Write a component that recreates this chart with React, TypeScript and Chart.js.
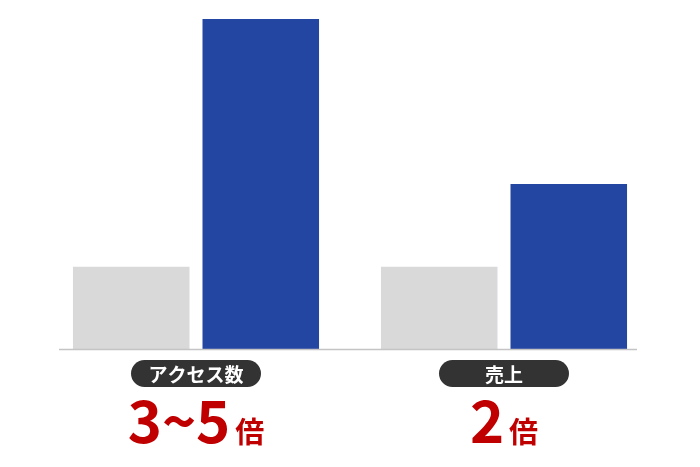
import React, { useEffect, useRef } from "react";
import { Chart, registerables } from "chart.js";

Chart.register(...registerables);

const categories = ["アクセス数", "売上"];
const beforeValues = [1, 1];
const afterValues = [4, 2];
const multiplierNumbers = ["3~5", "2"];
const multiplierUnit = "倍";

const FONT = '"Noto Sans CJK JP", "Noto Sans", sans-serif';

const labelPlugin = {
  id: "labelPlugin",
  afterDatasetsDraw(chart: any) {
    const { ctx, chartArea, scales } = chart;
    const xScale = scales.x;
    ctx.save();
    // baseline axis line
    ctx.strokeStyle = "#c4c4c4";
    ctx.lineWidth = 1.5;
    ctx.beginPath();
    ctx.moveTo(chartArea.left + 17, chartArea.bottom + 0.5);
    ctx.lineTo(chartArea.right - 21, chartArea.bottom + 0.5);
    ctx.stroke();

    categories.forEach((cat, i) => {
      const cx = xScale.getPixelForValue(i);
      // pill
      const pw = 130;
      const ph = 27;
      const py = chartArea.bottom + 11;
      const px = cx - pw / 2;
      const r = ph / 2;
      ctx.fillStyle = "#333333";
      ctx.beginPath();
      ctx.moveTo(px + r, py);
      ctx.lineTo(px + pw - r, py);
      ctx.arc(px + pw - r, py + r, r, -Math.PI / 2, Math.PI / 2);
      ctx.lineTo(px + r, py + ph);
      ctx.arc(px + r, py + r, r, Math.PI / 2, (Math.PI * 3) / 2);
      ctx.closePath();
      ctx.fill();
      ctx.fillStyle = "#ffffff";
      ctx.font = `bold 19px ${FONT}`;
      ctx.textAlign = "center";
      ctx.textBaseline = "middle";
      ctx.fillText(cat, cx, py + ph / 2 + 1);

      // multiplier text
      const num = multiplierNumbers[i];
      const bigFont = `bold 58px ${FONT}`;
      const smallFont = `bold 29px ${FONT}`;
      ctx.font = bigFont;
      const w1 = ctx.measureText(num).width;
      ctx.font = smallFont;
      const w2 = ctx.measureText(multiplierUnit).width;
      const gap = 5;
      const total = w1 + gap + w2;
      const startX = cx - total / 2;
      const baseY = chartArea.bottom + 94;
      ctx.fillStyle = "#c00000";
      ctx.textAlign = "left";
      ctx.textBaseline = "alphabetic";
      ctx.font = bigFont;
      ctx.fillText(num, startX, baseY);
      ctx.font = smallFont;
      ctx.fillText(multiplierUnit, startX + w1 + gap, baseY);
    });
    ctx.restore();
  },
};

export default function App() {
  const canvasRef = useRef<HTMLCanvasElement | null>(null);

  useEffect(() => {
    document.body.style.margin = "0";
    const canvas = canvasRef.current;
    if (!canvas) return;
    const chart = new Chart(canvas, {
      type: "bar",
      data: {
        labels: categories,
        datasets: [
          {
            label: "before",
            data: beforeValues,
            backgroundColor: "#d9d9d9",
            borderColor: "#ffffff",
            borderWidth: { top: 0, right: 6.5, bottom: 0, left: 0 },
            borderSkipped: false,
            categoryPercentage: 0.8,
            barPercentage: 1,
          },
          {
            label: "after",
            data: afterValues,
            backgroundColor: "#2446a3",
            borderColor: "#ffffff",
            borderWidth: { top: 0, right: 0, bottom: 0, left: 6.5 },
            borderSkipped: false,
            categoryPercentage: 0.8,
            barPercentage: 1,
          },
        ],
      },
      options: {
        responsive: false,
        animation: false,
        devicePixelRatio: 1,
        layout: { padding: { top: 19, bottom: 118, left: 42, right: 42 } },
        plugins: {
          legend: { display: false },
          tooltip: { enabled: false },
        },
        scales: {
          x: { display: false, grid: { display: false } },
          y: { display: false, min: 0, max: 4, grid: { display: false } },
        },
      },
      plugins: [labelPlugin],
    });
    return () => chart.destroy();
  }, []);

  return (
    <div style={{ width: 700, height: 467, background: "#ffffff" }}>
      <canvas ref={canvasRef} width={700} height={467} />
    </div>
  );
}
